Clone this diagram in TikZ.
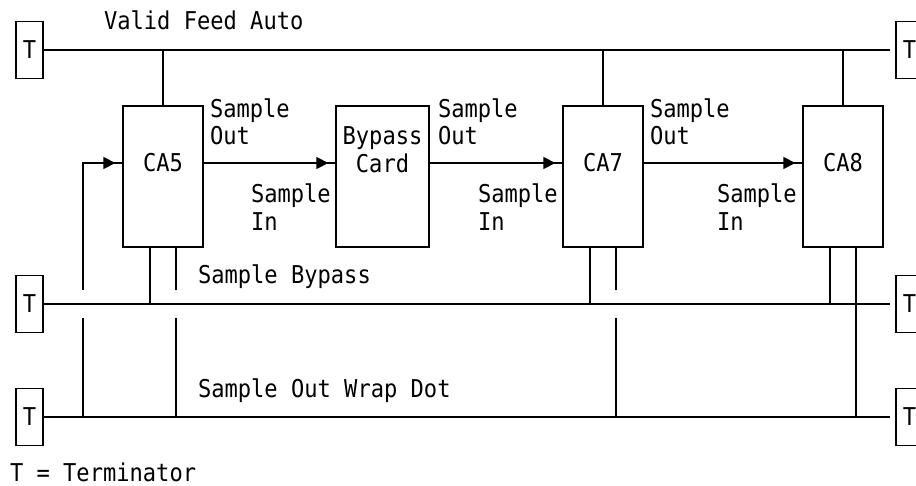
\documentclass[tikz,border=0pt]{standalone}
\usepackage{fontspec}
\setmonofont[FakeStretch=0.9]{DejaVu Sans Mono}
\usetikzlibrary{arrows.meta}
\tikzset{
    lbl/.style={font=\fontsize{18.4}{20.6}\selectfont\ttfamily, inner sep=0pt, outer sep=0pt},
    txtb/.style={lbl, anchor=base west},
    txtm/.style={lbl, anchor=west, align=left},
    termbox/.style={draw, lbl, minimum width=20.25pt, minimum height=42.4pt},
    cardbox/.style={draw, minimum width=60pt, minimum height=105.75pt, inner sep=0pt},
    bus/.style={shorten >=4.5pt},
    feed/.style={-{Triangle[length=9pt,width=9pt]}, shorten >=5.25pt}
}
\begin{document}
\begin{tikzpicture}[x=0.75pt, y=-0.75pt, line width=1pt]
        \clip (0,0) rectangle (916,485);
        \node[termbox] (tl1) at (29.5,50) {T};
        \node[termbox] (tl2) at (29.5,304) {T};
        \node[termbox] (tl3) at (29.5,417) {T};
        \node[termbox] (tr1) at (909.5,50) {T};
        \node[termbox] (tr2) at (909.5,304) {T};
        \node[termbox] (tr3) at (909.5,417) {T};
        \node[cardbox] (ca5) at (163,176.5) {};
        \node[cardbox, minimum width=69.75pt] (bp) at (382.5,176.5) {};
        \node[cardbox] (ca7) at (603,176.5) {};
        \node[cardbox] (ca8) at (843,176.5) {};
        \node[lbl] (ca5t) at (163,163) {CA5};
        \node[lbl, align=center] (bpt) at (382.5,149.5) {Bypass\\Card};
        \node[lbl] (ca7t) at (603,163) {CA7};
        \node[lbl] (ca8t) at (843,163) {CA8};
        \node[txtb] (auto) at (104,30) {Valid Feed Auto};
        \node[txtb] (bypass) at (198,283) {Sample Bypass};
        \node[txtb] (wrap) at (198,397) {Sample Out Wrap Dot};
        \node[txtb] (term) at (10,481) {T = Terminator};
        \node[txtm] (out5) at (210,122) {Sample\\Out};
        \node[txtm] (outb) at (438,122) {Sample\\Out};
        \node[txtm] (out7) at (650,122) {Sample\\Out};
        \node[txtm] (in5) at (251,207) {Sample\\In};
        \node[txtm] (inb) at (478,207) {Sample\\In};
        \node[txtm] (in8) at (717,207) {Sample\\In};
        \coordinate (loop) at (83,290);
        \coordinate (loopb) at (83,318);
        \coordinate (w5) at (176,290);
        \coordinate (w5b) at (176,318);
        \coordinate (w7) at (616,290);
        \coordinate (w7b) at (616,318);
        \coordinate (s5) at (150,247);
        \coordinate (d5) at (176,247);
        \coordinate (s7) at (590,247);
        \coordinate (d7) at (616,247);
        \coordinate (s8) at (830,247);
        \coordinate (d8) at (856,247);
        \draw[bus] (tl1.east) -- (tr1.west);
        \draw[bus] (tl2.east) -- (tr2.west);
        \draw[bus] (tl3.east) -- (tr3.west);
        \draw (ca5.north) -- (ca5.north |- tl1.east);
        \draw (ca7.north) -- (ca7.north |- tl1.east);
        \draw (ca8.north) -- (ca8.north |- tl1.east);
        \draw (ca5.east |- ca5t) -- (bp.west |- ca5t);
        \draw[feed] (ca5.east |- ca5t) -- (bp.west |- ca5t);
        \draw (bp.east |- ca5t) -- (ca7.west |- ca5t);
        \draw[feed] (bp.east |- ca5t) -- (ca7.west |- ca5t);
        \draw (ca7.east |- ca5t) -- (ca8.west |- ca5t);
        \draw[feed] (ca7.east |- ca5t) -- (ca8.west |- ca5t);
        \draw (loop) -- (loop |- ca5t) -- (ca5.west |- ca5t);
        \draw[feed] (loop) -- (loop |- ca5t) -- (ca5.west |- ca5t);
        \draw (loopb) -- (loopb |- tl3.east);
        \draw (s5) -- (s5 |- tl2.east);
        \draw (s7) -- (s7 |- tl2.east);
        \draw (s8) -- (s8 |- tl2.east);
        \draw (d5) -- (w5);
        \draw (w5b) -- (w5b |- tl3.east);
        \draw (d7) -- (w7);
        \draw (w7b) -- (w7b |- tl3.east);
        \draw (d8) -- (d8 |- tl3.east);
    \end{tikzpicture}
\end{document}
